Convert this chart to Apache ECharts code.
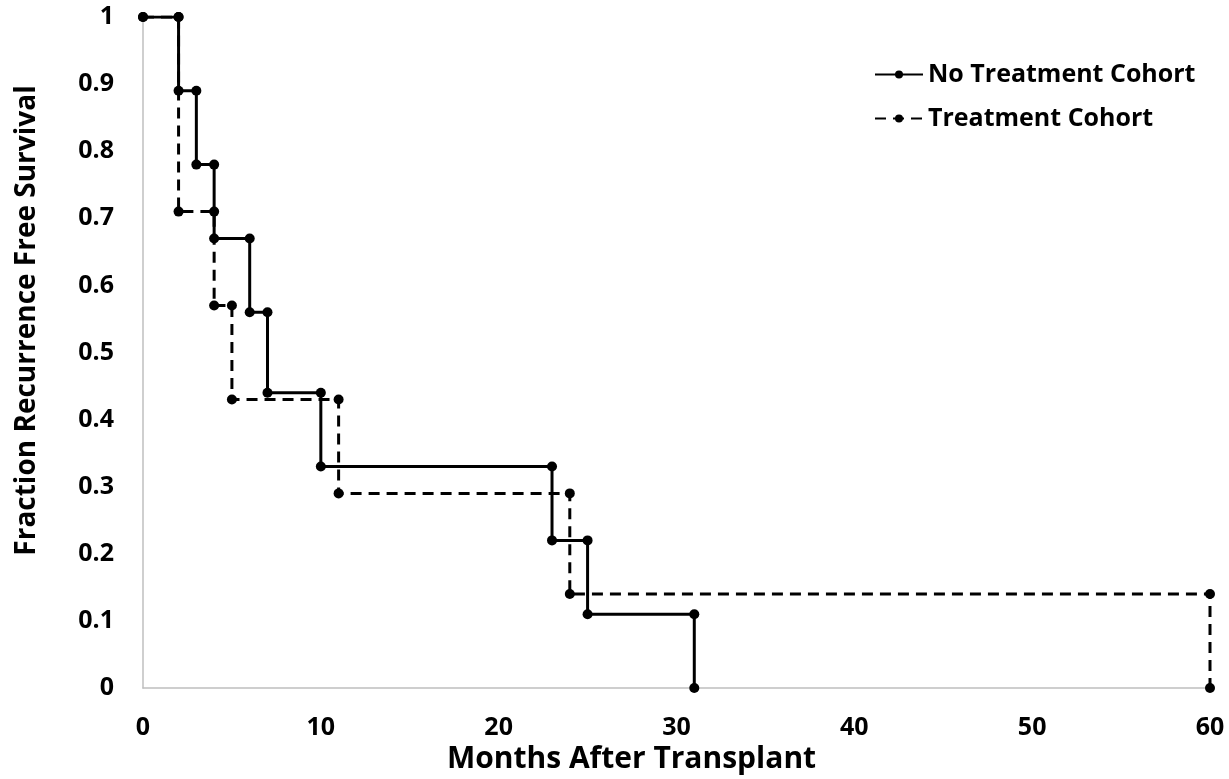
<!DOCTYPE html>
<html><head><meta charset="utf-8">
<script src="https://cdn.jsdelivr.net/npm/echarts@6/dist/echarts.min.js"></script>
<style>html,body{margin:0;padding:0;background:#fff}#c{width:1229px;height:779px}</style>
</head><body><div id="c"></div>
<script>
const seriesNames = ['No Treatment Cohort', 'Treatment Cohort'];
const noTreatMonths = [0, 2, 2, 3, 3, 4, 4, 6, 6, 7, 7, 10, 10, 23, 23, 25, 25, 31, 31];
const noTreatSurv   = [1, 1, 0.89, 0.89, 0.78, 0.78, 0.67, 0.67, 0.56, 0.56, 0.44, 0.44, 0.33, 0.33, 0.22, 0.22, 0.11, 0.11, 0];
const treatMonths = [0, 2, 2, 4, 4, 5, 5, 11, 11, 24, 24, 60, 60];
const treatSurv   = [1, 1, 0.71, 0.71, 0.57, 0.57, 0.43, 0.43, 0.29, 0.29, 0.14, 0.14, 0];
const xTicks = [0, 10, 20, 30, 40, 50, 60];
const xTitle = 'Months After Transplant';
const yTitle = 'Fraction Recurrence Free Survival';

const FONT = 'Open Sans';
const pair = (xs, ys) => xs.map((x, i) => [x, ys[i]]);

const chart = echarts.init(document.getElementById('c'));
chart.setOption({
  animation: false,
  backgroundColor: '#fff',
  grid: { left: 143, right: 19, top: 17, bottom: 91, containLabel: false, outerBoundsMode: 'none' },
  legend: {
    left: 869, top: 57, orient: 'vertical',
    itemWidth: 48, itemHeight: 10, itemGap: 19,
    textStyle: { fontFamily: FONT, fontWeight: 'bold', fontSize: 25, color: '#000' },
    data: seriesNames
  },
  xAxis: {
    type: 'value', min: xTicks[0], max: xTicks[xTicks.length - 1], interval: 10,
    name: xTitle, nameLocation: 'middle', nameGap: 55,
    nameTextStyle: { fontFamily: FONT, fontWeight: 'bold', fontSize: 30, color: '#000', padding: [0, 90, 0, 0] },
    axisLine: { show: true, lineStyle: { color: '#bfbfbf', width: 1.5 } },
    axisTick: { show: false },
    splitLine: { show: false },
    axisLabel: { margin: 27, fontFamily: FONT, fontWeight: 'bold', fontSize: 25, color: '#000' }
  },
  yAxis: {
    type: 'value', min: 0, max: 1, interval: 0.1,
    name: yTitle, nameLocation: 'middle', nameGap: 102, nameRotate: 90,
    nameTextStyle: { fontFamily: FONT, fontWeight: 'bold', fontSize: 28, color: '#000', padding: [0, 0, 0, 64] },
    axisLine: { show: true, lineStyle: { color: '#bfbfbf', width: 1.5 } },
    axisTick: { show: false },
    splitLine: { show: false },
    axisLabel: { margin: 29, fontFamily: FONT, fontWeight: 'bold', fontSize: 25, color: '#000',
      formatter: v => String(+v.toFixed(1)) }
  },
  series: [
    { name: seriesNames[0], type: 'line', data: pair(noTreatMonths, noTreatSurv),
      symbol: 'circle', symbolSize: 10, showAllSymbol: true,
      lineStyle: { color: '#000', width: 3, type: 'solid' },
      itemStyle: { color: '#000' } },
    { name: seriesNames[1], type: 'line', data: pair(treatMonths, treatSurv),
      symbol: 'circle', symbolSize: 10, showAllSymbol: true,
      lineStyle: { color: '#000', width: 3, type: [11, 7] },
      itemStyle: { color: '#000' } }
  ]
});
</script></body></html>
